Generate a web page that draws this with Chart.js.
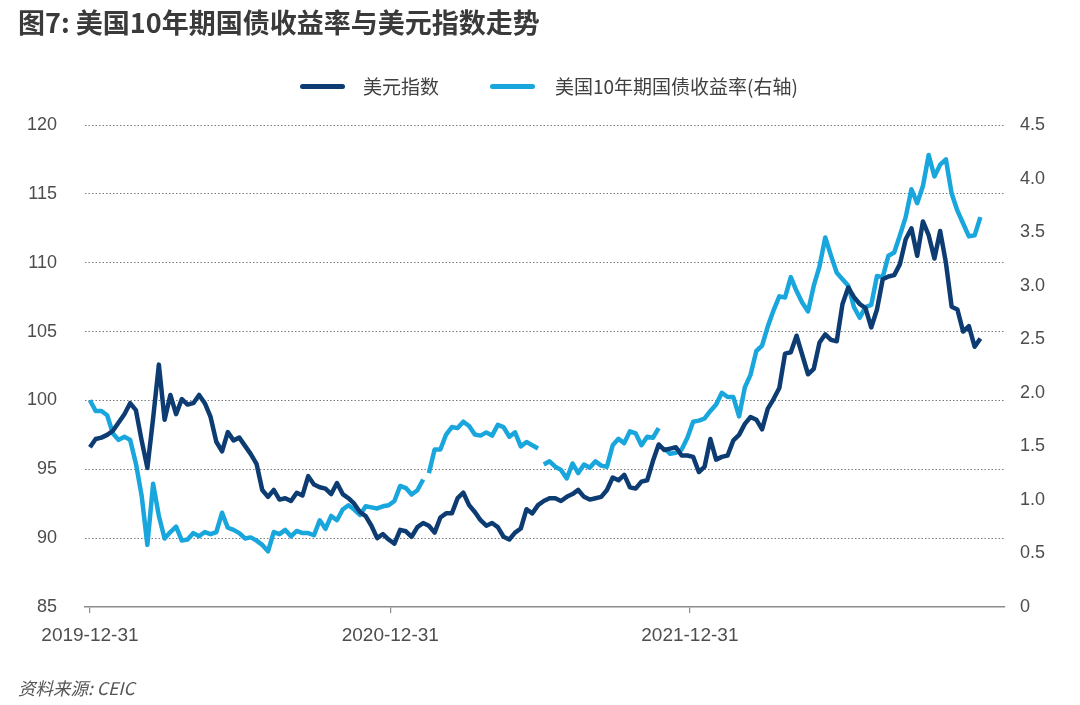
<!DOCTYPE html>
<html>
<head>
<meta charset="utf-8">
<script src="https://cdn.jsdelivr.net/npm/chart.js@4.4.1/dist/chart.umd.min.js"></script>
<style>
  html, body { margin: 0; padding: 0; background: #fff; }
  #wrap { position: relative; width: 1080px; height: 705px; overflow: hidden;
          font-family: "Noto Sans CJK SC", "Noto Sans", sans-serif; }
  #box { position: absolute; left: 0; top: 0; width: 1080px; height: 705px; }
  .title { position: absolute; left: 18px; top: 5px; font-size: 27px; font-weight: bold;
           color: #3a3a3a; white-space: nowrap; line-height: 33px; }
  .lg-line { position: absolute; height: 5px; width: 45px; border-radius: 3px; top: 84px; }
  .lg-text { position: absolute; top: 72px; font-size: 19px; line-height: 27px; color: #404040; white-space: nowrap; }
  .source { position: absolute; left: 18px; top: 676px; font-size: 17.5px; line-height: 24px;
            color: #555; font-style: italic; white-space: nowrap; }
</style>
</head>
<body>
<div id="wrap">
  <div id="box"><canvas id="c"></canvas></div>
  <div class="title">图7: 美国10年期国债收益率与美元指数走势</div>
  <div class="lg-line" style="left:300px;background:#0d3c73"></div>
  <div class="lg-text" style="left:363px">美元指数</div>
  <div class="lg-line" style="left:490px;background:#18a6dd"></div>
  <div class="lg-text" style="left:555px">美国10年期国债收益率(右轴)</div>
  <div class="source">资料来源: CEIC</div>
</div>
<script>
// ---- data (weekly observations starting 2019-12-31) ----
const startDate = '2019-12-31';
const stepDays = 7;
const xTickLabels = ['2019-12-31', '2020-12-31', '2021-12-31'];

const seriesNames = ['美元指数', '美国10年期国债收益率(右轴)'];

// 美元指数 (left axis)
const usdIndex = [
  96.6, 97.2, 97.3, 97.5, 97.8, 98.4, 99.0, 99.8, 99.3, 97.1,
  95.1, 98.7, 102.6, 98.6, 100.4, 99.0, 100.1, 99.7, 99.8, 100.4,
  99.8, 98.8, 97.0, 96.3, 97.7, 97.1, 97.3, 96.7, 96.1, 95.4,
  93.5, 93.0, 93.5, 92.8, 92.9, 92.7, 93.3, 93.1, 94.5, 93.9,
  93.7, 93.6, 93.2, 94.0, 93.2, 92.9, 92.5, 91.9, 91.6, 90.9,
  90.0, 90.3, 89.9, 89.6, 90.6, 90.5, 90.1, 90.8, 91.1, 90.9,
  90.4, 91.5, 91.8, 91.8, 92.9, 93.3, 92.4, 91.9, 91.3, 90.9,
  91.1, 90.8, 90.1, 89.9, 90.4, 90.7, 92.1, 91.8, 92.4, 92.7,
  92.9, 92.9, 92.7, 93.0, 93.2, 93.5, 93.0, 92.8, 92.9, 93.0,
  93.5, 94.4, 94.2, 94.6, 93.7, 93.6, 94.1, 94.2, 95.6, 96.8,
  96.4, 96.5, 96.6, 96.0, 96.0, 95.9, 94.8, 95.2, 97.2, 95.7,
  95.9, 96.0, 97.1, 97.5, 98.3, 98.8, 98.6, 97.9, 99.4, 100.1,
  100.9, 103.4, 103.5, 104.7, 103.3, 101.9, 102.3, 104.2, 104.8, 104.4,
  104.3, 107.0, 108.2, 107.5, 107.0, 106.7, 105.3, 106.6, 108.8, 109.0,
  109.1, 109.9, 111.7, 112.5, 110.5, 113.0, 112.0, 110.3, 112.3, 110.0,
  106.8, 106.6, 105.0, 105.4, 103.9, 104.5
];

// 美国10年期国债收益率, % (right axis)
const ust10y = [
  1.93, 1.83, 1.83, 1.79, 1.62, 1.56, 1.59, 1.56, 1.34, 1.04,
  0.58, 1.15, 0.85, 0.64, 0.70, 0.75, 0.62, 0.63, 0.69, 0.66,
  0.70, 0.68, 0.70, 0.88, 0.74, 0.72, 0.69, 0.64, 0.65, 0.62,
  0.58, 0.52, 0.70, 0.68, 0.72, 0.66, 0.71, 0.69, 0.69, 0.67,
  0.81, 0.73, 0.85, 0.81, 0.91, 0.95, 0.91, 0.86, 0.94, 0.93,
  0.92, 0.94, 0.95, 0.99, 1.13, 1.11, 1.05, 1.09, 1.19, 1.25,
  1.47, 1.47, 1.61, 1.68, 1.67, 1.73, 1.69, 1.61, 1.60, 1.63,
  1.60, 1.70, 1.68, 1.59, 1.63, 1.50, 1.54, 1.51, 1.48, 1.33,
  1.36, 1.31, 1.28, 1.20, 1.34, 1.25, 1.33, 1.30, 1.36, 1.32,
  1.31, 1.51, 1.57, 1.53, 1.64, 1.62, 1.51, 1.59, 1.58, 1.67,
  1.48, 1.43, 1.44, 1.47, 1.58, 1.73, 1.74, 1.76, 1.83, 1.89,
  2.00, 1.96, 1.96, 1.78, 2.05, 2.17, 2.39, 2.44, 2.62, 2.77,
  2.90, 2.89, 3.08, 2.95, 2.84, 2.76, 3.00, 3.18, 3.45, 3.28,
  3.12, 3.06, 3.00, 2.80, 2.70, 2.80, 2.82, 3.09, 3.08, 3.28,
  3.31, 3.47, 3.64, 3.90, 3.77, 3.93, 4.22, 4.02, 4.13, 4.18,
  3.86, 3.70, 3.58, 3.46, 3.47, 3.64
];
// observation indices after which the yield series has a break
const ust10yBreaks = [58, 78, 99];

const leftAxis = { min: 85, max: 120, step: 5 };
const rightAxis = { min: 0, max: 4.5, step: 0.5 };

// ---- chart ----
const dayOf = s => Math.round((Date.parse(s) - Date.parse(startDate)) / 864e5);
const toPoints = arr => arr.map((v, i) => ({ x: i * stepDays, y: v }));
const tickFont = { family: '"Liberation Sans", Arial, sans-serif', size: 18 };
const tickColor = '#4d4d4d';

new Chart(document.getElementById('c'), {
  type: 'line',
  data: {
    datasets: [
      {
        label: seriesNames[0],
        data: toPoints(usdIndex),
        yAxisID: 'y',
        borderColor: '#0d3c73',
        borderWidth: 4.5,
        pointRadius: 0,
        borderJoinStyle: 'round',
        tension: 0
      },
      {
        label: seriesNames[1],
        data: toPoints(ust10y),
        yAxisID: 'y1',
        borderColor: '#18a6dd',
        borderWidth: 4.5,
        pointRadius: 0,
        borderJoinStyle: 'round',
        tension: 0,
        segment: {
          borderColor: ctx => ust10yBreaks.includes(ctx.p0DataIndex) ? 'rgba(0,0,0,0)' : undefined
        }
      }
    ]
  },
  options: {
    responsive: true,
    maintainAspectRatio: false,
    animation: false,
    layout: { padding: { top: 125, bottom: 58, left: 0, right: 0 } },
    plugins: { legend: { display: false }, title: { display: false }, tooltip: { enabled: false } },
    scales: {
      x: {
        type: 'linear',
        min: -6,
        max: 1115,
        afterBuildTicks: s => { s.ticks = xTickLabels.map(l => ({ value: dayOf(l) })); },
        afterFit: s => { s.height = 40; },
        ticks: {
          autoSkip: false,
          maxRotation: 0,
          padding: 11,
          font: { family: '"Liberation Sans", Arial, sans-serif', size: 19 },
          color: tickColor,
          callback: (v) => { const i = xTickLabels.findIndex(l => dayOf(l) === v); return i >= 0 ? xTickLabels[i] : ''; }
        },
        grid: { display: true, drawOnChartArea: false, drawTicks: true, tickLength: 6, color: '#8c8c8c', lineWidth: 1.2 },
        border: { display: true, color: '#8c8c8c', width: 1.5 }
      },
      y: {
        position: 'left',
        min: leftAxis.min,
        max: leftAxis.max,
        afterFit: s => { s.width = 85; },
        ticks: { stepSize: leftAxis.step, padding: 28, font: tickFont, color: tickColor },
        grid: {
          drawTicks: false,
          color: ctx => ctx.tick && ctx.tick.value === leftAxis.min ? 'rgba(0,0,0,0)' : '#7a7a7a',
          lineWidth: 1,
          borderDash: [1.5, 2]
        },
        border: { display: false, dash: [1.5, 2] }
      },
      y1: {
        position: 'right',
        min: rightAxis.min,
        max: rightAxis.max,
        afterFit: s => { s.width = 75; },
        ticks: {
          stepSize: rightAxis.step, padding: 15, font: tickFont, color: tickColor,
          callback: v => v === 0 ? '0' : v.toFixed(1)
        },
        grid: { display: false, drawTicks: false },
        border: { display: false }
      }
    }
  }
});
</script>
</body>
</html>
